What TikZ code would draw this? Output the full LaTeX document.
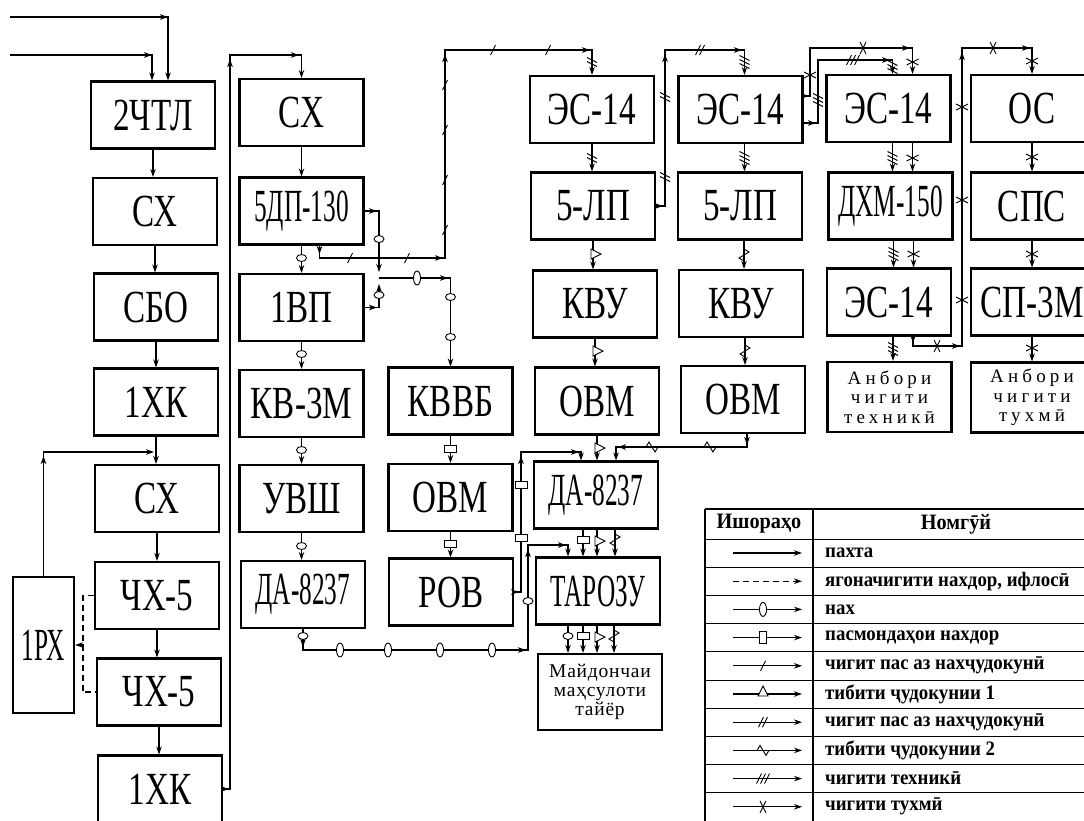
\documentclass[tikz,border=0pt]{standalone}
\usepackage{fontspec}
\setmainfont{Liberation Serif}
\newfontfamily\boxfont[FakeStretch=0.72]{Liberation Serif}
\newfontfamily\narrowfont[FakeStretch=0.55]{Liberation Serif}
\newfontfamily\storefont[LetterSpace=22]{Liberation Serif}
\newfontfamily\sitefont[LetterSpace=4]{Liberation Serif}
\newfontfamily\legfont[FakeStretch=0.92]{Liberation Serif}
\usetikzlibrary{arrows.meta, calc}

\tikzset{
  box/.style={draw, line width=2.1pt, minimum width=124pt, minimum height=67pt,
    inner sep=0pt, font=\boxfont\fontsize{46}{46}\selectfont},
  narrowbox/.style={box, font=\narrowfont\fontsize{46}{46}\selectfont},
  storebox/.style={box, minimum height=70pt, align=center,
    font=\storefont\fontsize{19}{19.5}\selectfont},
  sitebox/.style={box, minimum height=76pt, align=center,
    font=\sitefont\fontsize{19.5}{19}\selectfont},
  flow/.style={line width=1.1pt, -{Stealth[length=8pt, width=5.5pt]}},
  dashflow/.style={flow, dash pattern=on 6pt off 4pt},
  rule/.style={line width=1.2pt},
  hd/.style={font=\legfont\bfseries\fontsize{22}{24}\selectfont, inner sep=0pt},
  legtext/.style={anchor=west, font=\legfont\bfseries\fontsize{20.5}{22}\selectfont, inner sep=0pt},
  % marks sitting on the flow lines (drawn for a horizontal line)
  head/.pic={\fill (0,0) -- (-8,-2.8) -- (-6,0) -- (-8,2.8) -- cycle;},
  nax/.pic={\draw[fill=white, line width=0.9pt] (0,0) ellipse [x radius=3.5, y radius=7];},
  naxv/.pic={\draw[fill=white, line width=0.9pt] (0,0) ellipse [x radius=5, y radius=3.5];},
  pas/.pic={\draw[fill=white, line width=0.9pt] (-3.5,-6) rectangle (3.5,6);},
  slashone/.pic={\draw[line width=0.9pt] (-2.5,5) -- (2.5,-5);},
  slashtwo/.pic={\draw[line width=0.9pt] (-4.5,5) -- (0.5,-5) (-0.5,5) -- (4.5,-5);},
  slashthree/.pic={\draw[line width=0.9pt] (-6.5,5) -- (-1.5,-5) (-2.5,5) -- (2.5,-5) (1.5,5) -- (6.5,-5);},
  tri/.pic={\draw[fill=white, line width=0.9pt] (-5,2) -- (0,-8) -- (5,2) -- cycle;},
  wave/.pic={\draw[line width=0.9pt] (-6,0) -- (-3,-5) -- (0,0) -- (3,5) -- (6,0);},
  xmark/.pic={\draw[line width=0.9pt] (-3,-6) -- (3,6) (-3,6) -- (3,-6);},
}

\begin{document}
\begin{tikzpicture}[x=1pt, y=-1pt]

\useasboundingbox (0,0) rectangle (1084,820);
\clip (0,0) rectangle (1084,820);

% ---------- column 1: opening and cleaning ----------
\node[box] (chtl) at (153,115) {2ЧТЛ};
\node[box] (cxa)  at (155,211.5) {СХ};
\node[box] (sbo)  at (156,307) {СБО};
\node[box] (hka)  at (156,402) {1ХК};
\node[box] (cxb)  at (157,498.5) {СХ};
\node[box] (chxa) at (157,595.5) {ЧХ-5};
\node[box] (chxb) at (159,692) {ЧХ-5};
\node[box] (hkb)  at (160,789) {1ХК};
\node[narrowbox, minimum width=61pt, minimum height=136pt] (rx) at (43.5,645) {1РХ};

% ---------- column 2: gin and lint cleaning ----------
\node[box] (cxc)  at (301.5,112.5) {СХ};
\node[narrowbox] (dp) at (301.5,211) {5ДП-130};
\node[box] (vp)   at (301.5,307.5) {1ВП};
\node[box] (kv)   at (301.5,403.5) {КВ-3М};
\node[box] (uvsh) at (301.5,498.5) {УВШ};
\node[narrowbox] (daa) at (303,594.5) {ДА-8237};

% ---------- waste line ----------
\node[box] (kvvb) at (450.5,401) {КВВБ};
\node[box] (ovma) at (450.5,497.5) {ОВМ};
\node[box] (rov)  at (451,592) {РОВ};

% ---------- column 3 ----------
\node[box] (esa)   at (592,109.5) {ЭС-14};
\node[box] (lpa)   at (593,206) {5-ЛП};
\node[box] (kvua)  at (595,304) {КВУ};
\node[box] (ovmb)  at (597,401) {ОВМ};
\node[narrowbox] (dab) at (596,495) {ДА-8237};
\node[narrowbox] (taroz) at (598,591) {ТАРОЗУ};
\node[sitebox] (site) at (600,692) {Майдончаи\\маҳсулоти\\тайёр};

% ---------- column 4 ----------
\node[box] (esb)  at (740.5,109.5) {ЭС-14};
\node[box] (lpb)  at (740,206) {5-ЛП};
\node[box] (kvub) at (741,303.5) {КВУ};
\node[box] (ovmc) at (743,399.5) {ОВМ};

% ---------- column 5 ----------
\node[box] (esc) at (888.5,108.5) {ЭС-14};
\node[narrowbox] (dhm) at (890.5,206) {ДХМ-150};
\node[box] (esd) at (889,302) {ЭС-14};
\node[storebox] (storet) at (889.5,397) {Анбори\\чигити\\техникӣ};

% ---------- column 6 ----------
\node[box, minimum width=122pt] (os)  at (1032,108.5) {ОС};
\node[box, minimum width=122pt] (sps) at (1032,206) {СПС};
\node[box, minimum width=122pt] (sp)  at (1032,302) {СП-3М};
\node[storebox, minimum width=122pt] (stores) at (1032,397.5) {Анбори\\чигити\\тухмӣ};

% ========== cotton flow, column 1 ==========
\coordinate (ina) at (10,17);
\coordinate (inb) at (10,55);
\draw[flow] (ina) -| ([xshift=15pt]chtl.north);
\draw[flow] (inb) -| ([xshift=-1pt]chtl.north);
\pic at (168,17) {head};
\pic at (152,55) {head};

\draw[flow] (chtl.south) -- (chtl.south |- cxa.north);
\draw[flow] (cxa.south) -- (cxa.south |- sbo.north);
\draw[flow] (sbo.south) -- (sbo.south |- hka.north);
\draw[flow] (hka.south) -- (hka.south |- cxb.north);
\draw[flow] (cxb.south) -- (cxb.south |- chxa.north);
\draw[flow] (chxa.south) -- (chxa.south |- chxb.north);
\draw[flow] (chxb.south) -- (chxb.south |- hkb.north);

% return from 1РХ
\coordinate (rxin) at (154,452);
\draw[flow] (rx.north) |- (rxin);
\pic[rotate=90] at (43.5,456) {head};

% dashed seeds back to 1РХ
\draw[dashflow, -] (chxa.west) -- ++(-11,0) |- (chxb.west);
\coordinate (dj) at (84,645);
\draw[dashflow] (dj) -- (rx.east);

% up to the gin line
\coordinate (rise) at (230,55);
\draw[flow] (hkb.east) -| (rise) -| (cxc.north);
\pic at (229,789) {head};
\pic[rotate=90] at (230,59) {head};
\pic at (299,55) {head};

% ========== column 2 ==========
\draw[flow] (cxc.south) -- (cxc.south |- dp.north);
\draw[flow] (dp.south) -- (dp.south |- vp.north);
\draw[flow] (vp.south) -- (vp.south |- kv.north);
\draw[flow] (kv.south) -- (kv.south |- uvsh.north);
\draw[flow] (uvsh.south) -- (uvsh.south |- daa.north);
\pic at (301.5,258) {naxv};
\pic at (301.5,354) {naxv};
\pic at (301.5,450) {naxv};
\pic at (301.5,546) {naxv};

% lint from 5ДП-130 and 1ВП to КВВБ
\coordinate (lja) at (379,272);
\coordinate (ljb) at (379,284);
\coordinate (lj) at (379,278);
\draw[flow] (dp.east) -| (lja);
\draw[flow] (vp.east) -| (ljb);
\draw[flow] (lj) -| (kvvb.north);
\pic at (377,211) {head};
\pic at (377,307.5) {head};
\pic at (448,278) {head};
\pic at (379,239) {naxv};
\pic at (379,295) {naxv};
\pic at (417,278) {nax};
\pic at (450.5,297) {naxv};
\pic at (450.5,337) {naxv};

% ginned seed to ЭС-14
\coordinate (sda) at (445,258);
\coordinate (sdb) at (445,50);
\draw[flow] ([xshift=18pt]dp.south) |- (sda) -- (sdb) -| (esa.north);
\pic[rotate=-90] at (319.5,254) {head};
\pic at (443,258) {head};
\pic[rotate=90] at (445,54) {head};
\pic at (590,50) {head};
\pic at (350,258) {slashone};
\pic at (407,258) {slashone};
\pic at (445,85) {slashone};
\pic at (445,130) {slashone};
\pic at (445,180) {slashone};
\pic at (445,230) {slashone};
\pic at (493,50) {slashone};
\pic at (548,50) {slashone};
\pic[rotate=90] at (592,62) {slashtwo};

% lint from ДА-8237 to ТАРОЗУ
\coordinate (nba) at (528,650);
\coordinate (nbb) at (528,545);
\draw[flow] (daa.south) |- (nba) -- (nbb) -| ([xshift=-30pt]taroz.north);
\pic[rotate=-90] at (303,647) {head};
\pic at (526,650) {head};
\pic[rotate=90] at (528,549) {head};
\pic at (566,545) {head};
\pic at (303,636) {naxv};
\pic at (340,650) {nax};
\pic at (388,650) {nax};
\pic at (440,650) {nax};
\pic at (492,650) {nax};
\pic at (528,601) {naxv};

% ========== waste line ==========
\draw[flow] (kvvb.south) -- (kvvb.south |- ovma.north);
\draw[flow] (ovma.south) -- (ovma.south |- rov.north);
\pic[rotate=90] at (450.5,449) {pas};
\pic[rotate=90] at (450.5,544) {pas};

\coordinate (pr) at (521,452);
\draw[flow] (rov.east) -| (pr) -| ([xshift=-15pt]dab.north);
\pic at (519,592) {head};
\pic[rotate=90] at (521,456) {head};
\pic at (579,452) {head};
\pic[rotate=90] at (521,485) {pas};
\pic[rotate=90] at (521,538) {pas};

% ========== column 3 ==========
\draw[flow] (esa.south) -- (esa.south |- lpa.north);
\draw[flow] (lpa.south) -- (lpa.south |- kvua.north);
\draw[flow] (kvua.south) -- (kvua.south |- ovmb.north);
\draw[flow] (ovmb.south) -- (ovmb.south |- dab.north);
\pic[rotate=90] at (592,158) {slashtwo};
\pic[rotate=-90] at (593,254) {tri};
\pic[rotate=-90] at (595,351) {tri};
\pic[rotate=-90] at (597,448) {tri};

\draw[flow] ([xshift=-13pt]dab.south) -- ([xshift=-13pt]dab.south |- taroz.north);
\draw[flow] ([xshift=1pt]dab.south) -- ([xshift=1pt]dab.south |- taroz.north);
\draw[flow] ([xshift=19pt]dab.south) -- ([xshift=19pt]dab.south |- taroz.north);
\pic[rotate=90] at (583,540) {pas};
\pic[rotate=-90] at (597,541) {tri};
\pic[rotate=90] at (615,540) {wave};

\draw[flow] ([xshift=-30pt]taroz.south) -- ([xshift=-30pt]taroz.south |- site.north);
\draw[flow] ([xshift=-15pt]taroz.south) -- ([xshift=-15pt]taroz.south |- site.north);
\draw[flow] ([xshift=-1pt]taroz.south) -- ([xshift=-1pt]taroz.south |- site.north);
\draw[flow] ([xshift=16pt]taroz.south) -- ([xshift=16pt]taroz.south |- site.north);
\pic at (568,636) {naxv};
\pic[rotate=90] at (583,636) {pas};
\pic[rotate=-90] at (597,637) {tri};
\pic[rotate=90] at (614,636) {wave};

% seed after first linter to column 4
\coordinate (ls) at (665,50);
\draw[flow] (lpa.east) -| (ls) -| ([xshift=4pt]esb.north);
\pic at (663,206) {head};
\pic[rotate=90] at (665,54) {head};
\pic at (742,50) {head};
\pic[rotate=90] at (665,97) {slashtwo};
\pic[rotate=90] at (665,177) {slashtwo};
\pic at (700,50) {slashtwo};
\pic[rotate=90] at (744.5,62) {slashthree};

% ========== column 4 ==========
\draw[flow] ([xshift=4pt]esb.south) -- ([xshift=4pt]esb.south |- lpb.north);
\draw[flow] ([xshift=4pt]lpb.south) -- ([xshift=4pt]lpb.south |- kvub.north);
\draw[flow] ([xshift=4pt]kvub.south) -- ([xshift=4pt]kvub.south |- ovmc.north);
\pic[rotate=90] at (744.5,158) {slashthree};
\pic[rotate=90] at (744,255) {wave};
\pic[rotate=90] at (745,351) {wave};

\coordinate (wa) at (616,447);
\draw[flow] ([xshift=4pt]ovmc.south) |- (wa) -- ([xshift=20pt]dab.north);
\pic[rotate=-90] at (747,445) {head};
\pic[rotate=180] at (618,447) {head};
\pic at (652,447) {wave};
\pic at (710,447) {wave};

% ЭС-14 outputs to column 5
\coordinate (xo) at (810,48);
\coordinate (to) at (818,60);
\draw[flow] ([yshift=13.5pt]esb.east) -| (xo) -| ([xshift=24pt]esc.north);
\draw[flow] ([yshift=-13.5pt]esb.east) -| (to) -| ([xshift=4pt]esc.north);
\pic at (809,96) {head};
\pic at (816,123) {head};
\pic at (910,48) {head};
\pic at (890,60) {head};
\pic[rotate=90] at (810,75) {xmark};
\pic at (863,48) {xmark};
\pic[rotate=90] at (912.5,62) {xmark};
\pic[rotate=90] at (818,100) {slashthree};
\pic at (853,60) {slashthree};
\pic[rotate=90] at (892.5,67) {slashthree};

% ========== column 5 ==========
\draw[flow] ([xshift=4pt]esc.south) -- ([xshift=4pt]esc.south |- dhm.north);
\draw[flow] ([xshift=24pt]esc.south) -- ([xshift=24pt]esc.south |- dhm.north);
\draw[flow] ([xshift=3pt]dhm.south) -- ([xshift=3pt]dhm.south |- esd.north);
\draw[flow] ([xshift=23pt]dhm.south) -- ([xshift=23pt]dhm.south |- esd.north);
\draw[flow] ([xshift=4pt]esd.south) -- ([xshift=4pt]esd.south |- storet.north);
\pic[rotate=90] at (892.5,158) {slashthree};
\pic[rotate=90] at (912.5,158) {xmark};
\pic[rotate=90] at (893.5,254) {slashthree};
\pic[rotate=90] at (913.5,254) {xmark};
\pic[rotate=90] at (893,349) {slashthree};

% seed for sowing to column 6
\coordinate (xra) at (962,346);
\coordinate (xrb) at (962,48);
\draw[flow] ([xshift=24pt]esd.south) |- (xra) -- (xrb) -| (os.north);
\pic[rotate=-90] at (913,343) {head};
\pic at (960,346) {head};
\pic[rotate=90] at (962,52) {head};
\pic at (1030,48) {head};
\pic at (937,346) {xmark};
\pic[rotate=90] at (962,107) {xmark};
\pic[rotate=90] at (962,200) {xmark};
\pic[rotate=90] at (962,300) {xmark};
\pic at (993,48) {xmark};
\pic[rotate=90] at (1032,61) {xmark};

% ========== column 6 ==========
\draw[flow] (os.south) -- (os.south |- sps.north);
\draw[flow] (sps.south) -- (sps.south |- sp.north);
\draw[flow] (sp.south) -- (sp.south |- stores.north);
\pic[rotate=90] at (1032,157) {xmark};
\pic[rotate=90] at (1032,254) {xmark};
\pic[rotate=90] at (1032,348) {xmark};

% ========== legend ==========
\draw[rule] (705,509) -- (1090,509);
\draw[rule] (705,509) -- (705,821);
\draw[rule] (813,509) -- (813,821);
\foreach \k in {0,...,9} {
  \draw[line width=0.8pt] (705,539+28.2*\k) -- (1090,539+28.2*\k);
}
\node[hd] (hsym)  at (759,524) {Ишораҳо};
\node[hd] (hname) at (956,524) {Номгӯй};

\draw[flow] (733,553) -- (802,553);
\draw[dashflow] (733,581.2) -- (802,581.2);
\draw[flow] (733,609.4) -- (802,609.4);
\pic at (763,609.4) {nax};
\draw[flow] (733,637.6) -- (802,637.6);
\pic at (763,637.6) {pas};
\draw[flow] (733,665.8) -- (802,665.8);
\pic at (763,665.8) {slashone};
\draw[flow] (733,694) -- (802,694);
\pic at (763,694) {tri};
\draw[flow] (733,722.2) -- (802,722.2);
\pic at (763,722.2) {slashtwo};
\draw[flow] (733,750.4) -- (802,750.4);
\pic at (763,750.4) {wave};
\draw[flow] (733,778.6) -- (802,778.6);
\pic at (763,778.6) {slashthree};
\draw[flow] (733,806.8) -- (802,806.8);
\pic at (763,806.8) {xmark};

\node[legtext] (la) at (825,553) {пахта};
\node[legtext] (lb) at (825,581.2) {ягоначигити нахдор, ифлосӣ};
\node[legtext] (lc) at (825,609.4) {нах};
\node[legtext] (ld) at (825,637.6) {пасмондаҳои нахдор};
\node[legtext] (le) at (825,665.8) {чигит пас аз нахҷудокунӣ};
\node[legtext] (lf) at (825,694) {тибити ҷудокунии 1};
\node[legtext] (lg) at (825,722.2) {чигит пас аз нахҷудокунӣ};
\node[legtext] (lh) at (825,750.4) {тибити ҷудокунии 2};
\node[legtext] (li) at (825,778.6) {чигити техникӣ};
\node[legtext] (lj) at (825,806.8) {чигити тухмӣ};

\end{tikzpicture}
\end{document}
